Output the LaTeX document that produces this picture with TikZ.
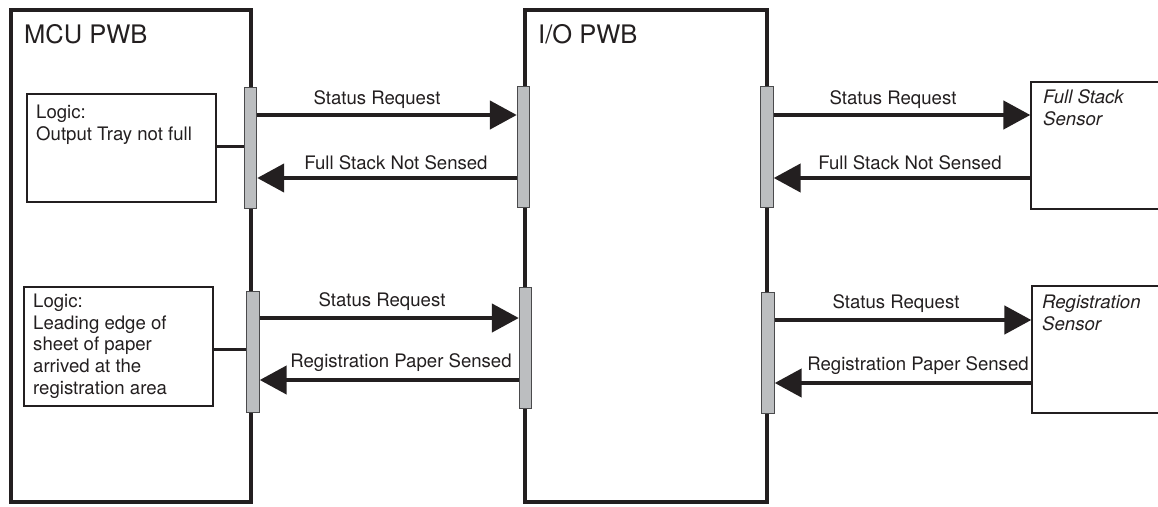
\documentclass[tikz,border=0pt]{standalone}
\usepackage{fontspec}
\setmainfont{TeX Gyre Heros}
\usetikzlibrary{arrows.meta}
\definecolor{ink}{HTML}{231F20}
\definecolor{bargray}{HTML}{BCBEC0}
\definecolor{bardraw}{HTML}{4A4A4C}
\begin{document}
\begin{tikzpicture}[x=1pt,y=-1pt,
  board/.style={draw=ink, line width=4pt, inner sep=0pt},
  port/.style={draw=bardraw, line width=0.9pt, fill=bargray, minimum width=12.5pt, minimum height=121pt, inner sep=0pt},
  logicbox/.style={draw=ink, line width=1.6pt, inner sep=0pt, minimum width=189pt},
  sensorbox/.style={draw=ink, line width=1.3pt, inner sep=0pt, minimum height=127pt},
  txt/.style={font=\fontsize{18.6}{21.7}\selectfont, inner sep=0pt, align=left, text=ink},
  big/.style={font=\fontsize{25.5}{30}\selectfont, inner sep=0pt, anchor=base west, text=ink},
  lbl/.style={font=\fontsize{18.6}{21.7}\selectfont, inner sep=0pt, anchor=base, text=ink},
  msg/.style={draw=ink, line width=4.5pt, -{Triangle[length=27pt,width=28pt]}},
  tie/.style={draw=ink, line width=3pt}
]
\useasboundingbox (0,0) rectangle (1158,506);

% boards
\node[board, minimum width=240.5pt, minimum height=492pt] (mcu) at (130.75,256) {};
\node[board, minimum width=242pt, minimum height=492pt] (io) at (646,256) {};
\node[big] (mcut) at (24,43) {MCU PWB};
\node[big] (iot) at (538,43) {I/O PWB};

% logic boxes
\node[logicbox, minimum height=108pt] (l1) at (121.5,148) {};
\node[logicbox, minimum height=119pt] (l2) at (118.5,346.5) {};
\node[txt, anchor=north west] (l1t) at (36,104.6) {Logic:\\Output Tray not full};
\node[txt, anchor=north west] (l2t) at (33,293.6) {Logic:\\Leading edge of\\sheet of paper\\arrived at the\\registration area};

% sensors (right side runs off the page, as in the original)
\node[sensorbox, minimum width=131pt] (s1) at (1096.5,145.5) {};
\node[sensorbox, minimum width=130pt] (s2) at (1097,349.5) {};
\node[txt, anchor=north west, font=\fontsize{18.6}{22}\selectfont\itshape] (s1t) at (1043,89.6) {Full Stack\\Sensor};
\node[txt, anchor=north west, font=\fontsize{18.6}{22}\selectfont\itshape] (s2t) at (1042,294.6) {Registration\\Sensor};

% ports
\node[port] (b1) at (250.5,147.5) {};
\node[port] (b2) at (253,351.5) {};
\node[port] (b3) at (523.5,147) {};
\node[port] (b4) at (525.5,347.5) {};
\node[port] (b5) at (767,147) {};
\node[port] (b6) at (768,352.5) {};

% logic ties
\draw[tie] (l1.east |- 0,146) -- (b1.west |- 0,146);
\draw[tie] (l2.east |- 0,349) -- (b2.west |- 0,349);

% messages
\draw[msg] (b1.east |- 0,115) -- (b3.west |- 0,115);
\draw[msg] (b3.west |- 0,178) -- (b1.east |- 0,178);
\draw[msg] (b5.east |- 0,115) -- (s1.west |- 0,115);
\draw[msg] (s1.west |- 0,178) -- (b5.east |- 0,178);
\draw[msg] (b2.east |- 0,318) -- (b4.west |- 0,318);
\draw[msg] (b4.west |- 0,380) -- (b2.east |- 0,380);
\draw[msg] (b6.east |- 0,320) -- (s2.west |- 0,320);
\draw[msg] (s2.west |- 0,383) -- (b6.east |- 0,383);

% message labels
\node[lbl] (m1) at (377,104) {Status Request};
\node[lbl] (m2) at (396,169) {Full Stack Not Sensed};
\node[lbl] (m3) at (893,104) {Status Request};
\node[lbl] (m4) at (910,169) {Full Stack Not Sensed};
\node[lbl] (m5) at (382,306) {Status Request};
\node[lbl] (m6) at (401,367) {Registration Paper Sensed};
\node[lbl] (m7) at (896,308) {Status Request};
\node[lbl] (m8) at (918,370) {Registration Paper Sensed};
\end{tikzpicture}
\end{document}
